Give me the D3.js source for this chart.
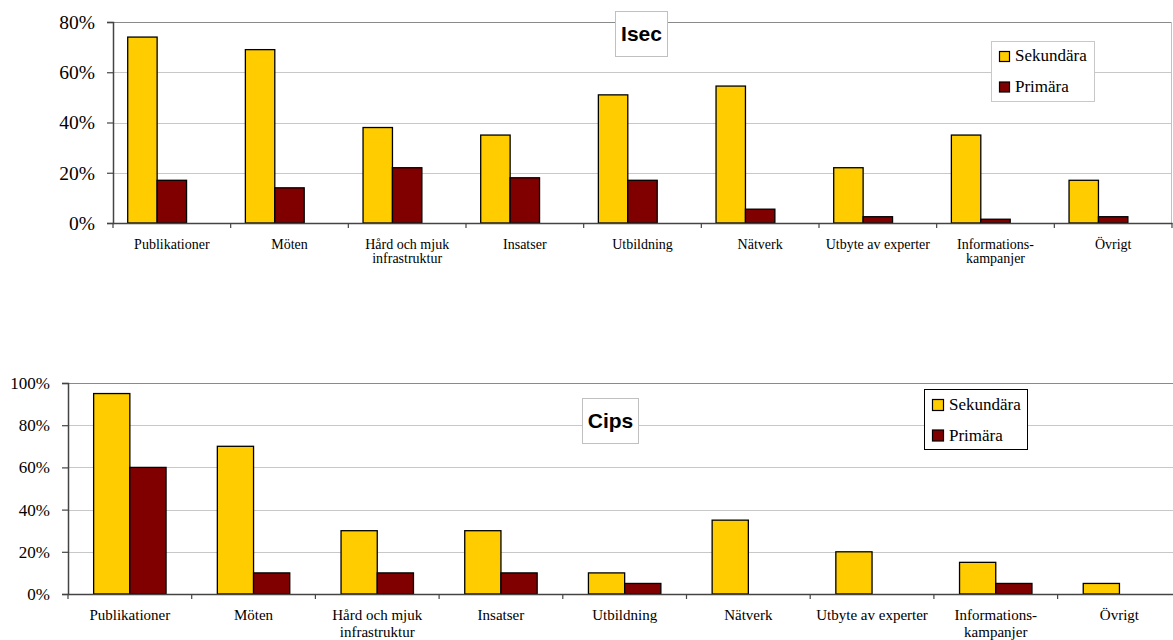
<!DOCTYPE html>
<html>
<head>
<meta charset="utf-8">
<script src="https://cdn.jsdelivr.net/npm/d3@7"></script>
<style>
  html, body { margin: 0; padding: 0; background: #fff; }
  svg { display: block; }
</style>
</head>
<body>
<svg id="chart" width="1173" height="640"></svg>
<script>
// ---- Data ----
const categories = ["Publikationer", "Möten", "Hård och mjuk\ninfrastruktur", "Insatser", "Utbildning", "Nätverk", "Utbyte av experter", "Informations-\nkampanjer", "Övrigt"];
const seriesNames = ["Sekundära", "Primära"];
const seriesColors = ["#FFCC00", "#800000"];

const isecSekundara = [0.74, 0.69, 0.38, 0.35, 0.51, 0.545, 0.22, 0.35, 0.17];
const isecPrimara   = [0.17, 0.14, 0.22, 0.18, 0.17, 0.055, 0.025, 0.015, 0.025];
const isecTicks = [0, 0.2, 0.4, 0.6, 0.8];

const cipsSekundara = [0.95, 0.70, 0.30, 0.30, 0.10, 0.35, 0.20, 0.15, 0.05];
const cipsPrimara   = [0.60, 0.10, 0.10, 0.10, 0.05, 0, 0, 0.05, 0];
const cipsTicks = [0, 0.2, 0.4, 0.6, 0.8, 1.0];

const svg = d3.select("#chart");
const SERIF = '"Liberation Serif", "Times New Roman", Times, "DejaVu Serif", serif';

function drawChart(cfg) {
  const g = svg.append("g");
  const x = d3.scaleBand().domain(categories).range([cfg.left, cfg.right]).paddingInner(0).paddingOuter(0);
  const y = d3.scaleLinear().domain([0, cfg.max]).range([cfg.bottom, cfg.top]);
  const x1 = d3.scaleBand().domain(cfg.slots).range([0, x.bandwidth()]).paddingInner(0).paddingOuter(cfg.outerPad);

  // gridlines
  g.append("g").selectAll("line").data(cfg.ticks.filter(t => t > 0 && t < cfg.max)).join("line")
    .attr("x1", cfg.left).attr("x2", cfg.right)
    .attr("y1", d => Math.round(y(d)) + 0.5).attr("y2", d => Math.round(y(d)) + 0.5)
    .attr("stroke", "#c8c8c8").attr("stroke-width", 1);

  // plot frame top & right
  g.append("line").attr("x1", cfg.left).attr("x2", cfg.right)
    .attr("y1", Math.round(y(cfg.max)) + 0.5).attr("y2", Math.round(y(cfg.max)) + 0.5)
    .attr("stroke", "#8a8a8a").attr("stroke-width", 1.2);
  if (cfg.rightBorder) {
    g.append("line").attr("x1", cfg.right - 0.5).attr("x2", cfg.right - 0.5)
      .attr("y1", y(cfg.max)).attr("y2", y(0))
      .attr("stroke", "#c0c0c0").attr("stroke-width", 1);
  }

  // bars
  const rows = categories.map((c, i) => ({ c, vals: cfg.series.map((s, j) => ({ name: seriesNames[j], v: s[i], color: seriesColors[j] })) }));
  const grp = g.append("g").selectAll("g").data(rows).join("g")
    .attr("transform", d => `translate(${x(d.c)},0)`);
  grp.selectAll("rect").data(d => d.vals.filter(v => v.v > 0)).join("rect")
    .attr("x", d => x1(d.name))
    .attr("width", x1.bandwidth())
    .attr("y", d => y(d.v))
    .attr("height", d => y(0) - y(d.v))
    .attr("fill", d => d.color)
    .attr("stroke", "#000").attr("stroke-width", 1.3);

  // y axis
  const yAxis = d3.axisLeft(y).tickValues(cfg.ticks).tickFormat(d3.format(".0%")).tickSize(6).tickPadding(cfg.yPad);
  const ya = g.append("g").attr("transform", `translate(${cfg.left},0)`).call(yAxis)
    .attr("font-family", null).attr("font-size", null);
  ya.select(".domain").attr("stroke", "#444").attr("stroke-width", 1.5);
  ya.selectAll(".tick line").attr("stroke", "#444").attr("stroke-width", 1.2);
  ya.selectAll("text").style("font-family", SERIF)
    .style("font-size", cfg.yFont + "px").attr("fill", "#000");

  // x axis
  const xAxis = d3.axisBottom(x).tickSize(0).tickFormat("");
  const xa = g.append("g").attr("transform", `translate(0,${cfg.bottom})`).call(xAxis)
    .attr("font-family", null).attr("font-size", null);
  xa.select(".domain").attr("stroke", "#444").attr("stroke-width", 1.5);
  // category boundary ticks
  const bounds = categories.map(c => x(c)).concat([x.range()[1]]);
  xa.append("g").selectAll("line").data(bounds).join("line")
    .attr("x1", d => d).attr("x2", d => d).attr("y1", 0).attr("y2", 5)
    .attr("stroke", "#444").attr("stroke-width", 1.2);
  // labels
  const lab = xa.append("g").selectAll("text").data(categories).join("text")
    .attr("x", d => x(d) + x.bandwidth() / 2)
    .attr("y", cfg.labelDy)
    .attr("text-anchor", "middle")
    .style("font-family", SERIF)
    .style("font-size", cfg.xFont + "px").attr("fill", "#000");
  lab.selectAll("tspan").data(d => d.split("\n")).join("tspan")
    .attr("x", function() { return d3.select(this.parentNode).attr("x"); })
    .attr("dy", (d, i) => i === 0 ? 0 : cfg.lineH)
    .text(d => d);

  // title box
  const tg = g.append("g");
  tg.append("rect").attr("x", cfg.titleBox[0] + 0.5).attr("y", cfg.titleBox[1] + 0.5)
    .attr("width", cfg.titleBox[2]).attr("height", cfg.titleBox[3])
    .attr("fill", "#fff").attr("stroke", "#c0c0c0");
  tg.append("text").attr("x", cfg.titleBox[0] + cfg.titleBox[2] / 2 + 0.5)
    .attr("y", cfg.titleBox[1] + cfg.titleBox[3] / 2 + 7.5)
    .attr("text-anchor", "middle")
    .style("font-family", '"Liberation Sans", Arial, sans-serif')
    .style("font-weight", "bold").style("font-size", "21px").attr("fill", "#000")
    .text(cfg.title);

  // legend
  const lg = g.append("g");
  lg.append("rect").attr("x", cfg.legBox[0] + 0.5).attr("y", cfg.legBox[1] + 0.5)
    .attr("width", cfg.legBox[2]).attr("height", cfg.legBox[3])
    .attr("fill", "#fff").attr("stroke", cfg.legStroke);
  const items = lg.selectAll("g").data(seriesNames).join("g")
    .attr("transform", (d, i) => `translate(${cfg.legBox[0] + 8},${cfg.legBox[1] + 10 + i * 30.5})`);
  items.append("rect").attr("x", 0.5).attr("y", 0.5).attr("width", cfg.sw).attr("height", cfg.sw)
    .attr("fill", (d, i) => seriesColors[i]).attr("stroke", "#000").attr("stroke-width", 1.2);
  items.append("text").attr("x", cfg.sw + 6).attr("y", cfg.sw)
    .style("font-family", SERIF)
    .style("font-size", "17px").attr("fill", "#000").text(d => d);
}

drawChart({
  title: "Isec", series: [isecSekundara, isecPrimara], ticks: isecTicks, max: 0.8,
  left: 113, right: 1172, top: 22, bottom: 223,
  slots: ["Sekundära", "Primära", ""], outerPad: 0.5,
  rightBorder: true, yFont: 19.5, yPad: 12, xFont: 14, labelDy: 26, lineH: 13.5,
  titleBox: [615, 11, 52, 45], legBox: [991, 41, 103, 60], legStroke: "#c8c8c8", sw: 10
});

drawChart({
  title: "Cips", series: [cipsSekundara, cipsPrimara], ticks: cipsTicks, max: 1.0,
  left: 68, right: 68 + 9 * 123.7, top: 383, bottom: 594,
  slots: ["Sekundära", "Primära"], outerPad: 0.708,
  rightBorder: false, yFont: 17, yPad: 12, xFont: 15, labelDy: 26, lineH: 16.5,
  titleBox: [582, 398, 56, 45], legBox: [924, 389, 103, 60], legStroke: "#000", sw: 11
});
</script>
</body>
</html>
